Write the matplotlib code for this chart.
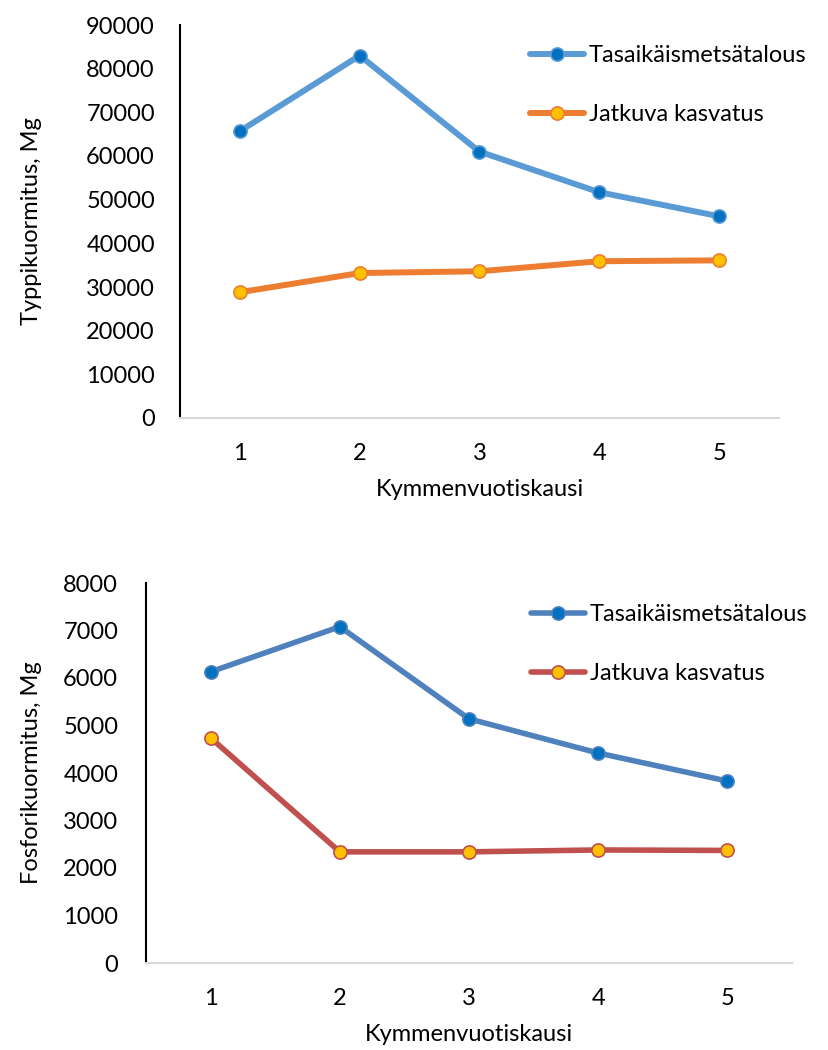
import matplotlib
matplotlib.use("Agg")
import matplotlib.pyplot as plt

plt.rcParams['font.family'] = ['Lato', 'DejaVu Sans']

periods = [1, 2, 3, 4, 5]
series_names = ["Tasaikäismetsätalous", "Jatkuva kasvatus"]

# Nitrogen load, Mg
n_even_aged = [65700, 83000, 61000, 51700, 46200]
n_continuous = [28800, 33200, 33600, 35900, 36100]

# Phosphorus load, Mg
p_even_aged = [6130, 7080, 5140, 4420, 3830]
p_continuous = [4740, 2340, 2340, 2380, 2370]

fig = plt.figure(figsize=(8.29, 10.5), dpi=100)

FS = 17


def style_axes(ax, ymax, ystep, ylabel, ypad, ylabelpad):
    ax.set_xlim(0.5, 5.5)
    ax.set_ylim(0, ymax)
    ax.set_yticks(range(0, ymax + 1, ystep))
    ax.set_xticks(periods)
    ax.tick_params(length=0, labelsize=FS)
    ax.tick_params(axis='y', pad=ypad)
    ax.tick_params(axis='x', pad=18)
    for s in ('top', 'right'):
        ax.spines[s].set_visible(False)
    ax.spines['left'].set_color('black')
    ax.spines['left'].set_linewidth(1.5)
    ax.spines['bottom'].set_color('#d9d9d9')
    ax.spines['bottom'].set_linewidth(1.5)
    ax.set_xlabel("Kymmenvuotiskausi", fontsize=FS, labelpad=11)
    ax.set_ylabel(ylabel, fontsize=FS, labelpad=ylabelpad)


def draw(ax, y1, y2, c1_line, c1_mark, c2_line, c2_mark, lw):
    ax.plot(periods, y1, color=c1_line, lw=lw, marker='o', ms=9.5,
            mfc=c1_mark, mec=c1_line, mew=1.2, label=series_names[0],
            solid_capstyle='round', zorder=3)
    ax.plot(periods, y2, color=c2_line, lw=lw, marker='o', ms=9.5,
            mfc=c2_mark, mec=c2_line, mew=1.2, label=series_names[1],
            solid_capstyle='round', zorder=3)


def add_legend(ax, x_px, y_px):
    ax.legend(loc='upper left', bbox_to_anchor=(x_px / 829, 1 - y_px / 1050),
              bbox_transform=fig.transFigure, frameon=False, fontsize=FS,
              handlelength=2.3, handletextpad=0.2, labelspacing=1.62,
              borderpad=0, borderaxespad=0)


# Nitrogen panel
ax1 = fig.add_axes([180 / 829, 1 - 418 / 1050, 599 / 829, 393 / 1050])
draw(ax1, n_even_aged, n_continuous, '#5B9BD5', '#0070C0', '#ED7D31', '#FFC000', 4.3)
style_axes(ax1, 90000, 10000, "Typpikuormitus, Mg", 18, 32)
add_legend(ax1, 530, 45)

# Phosphorus panel
ax2 = fig.add_axes([146 / 829, 1 - 963 / 1050, 646 / 829, 380 / 1050])
draw(ax2, p_even_aged, p_continuous, '#4F81BD', '#0070C0', '#C0504D', '#FFC000', 4.0)
style_axes(ax2, 8000, 1000, "Fosforikuormitus, Mg", 20, 15)
add_legend(ax2, 531, 604)

fig.savefig("out.png", dpi=100)
